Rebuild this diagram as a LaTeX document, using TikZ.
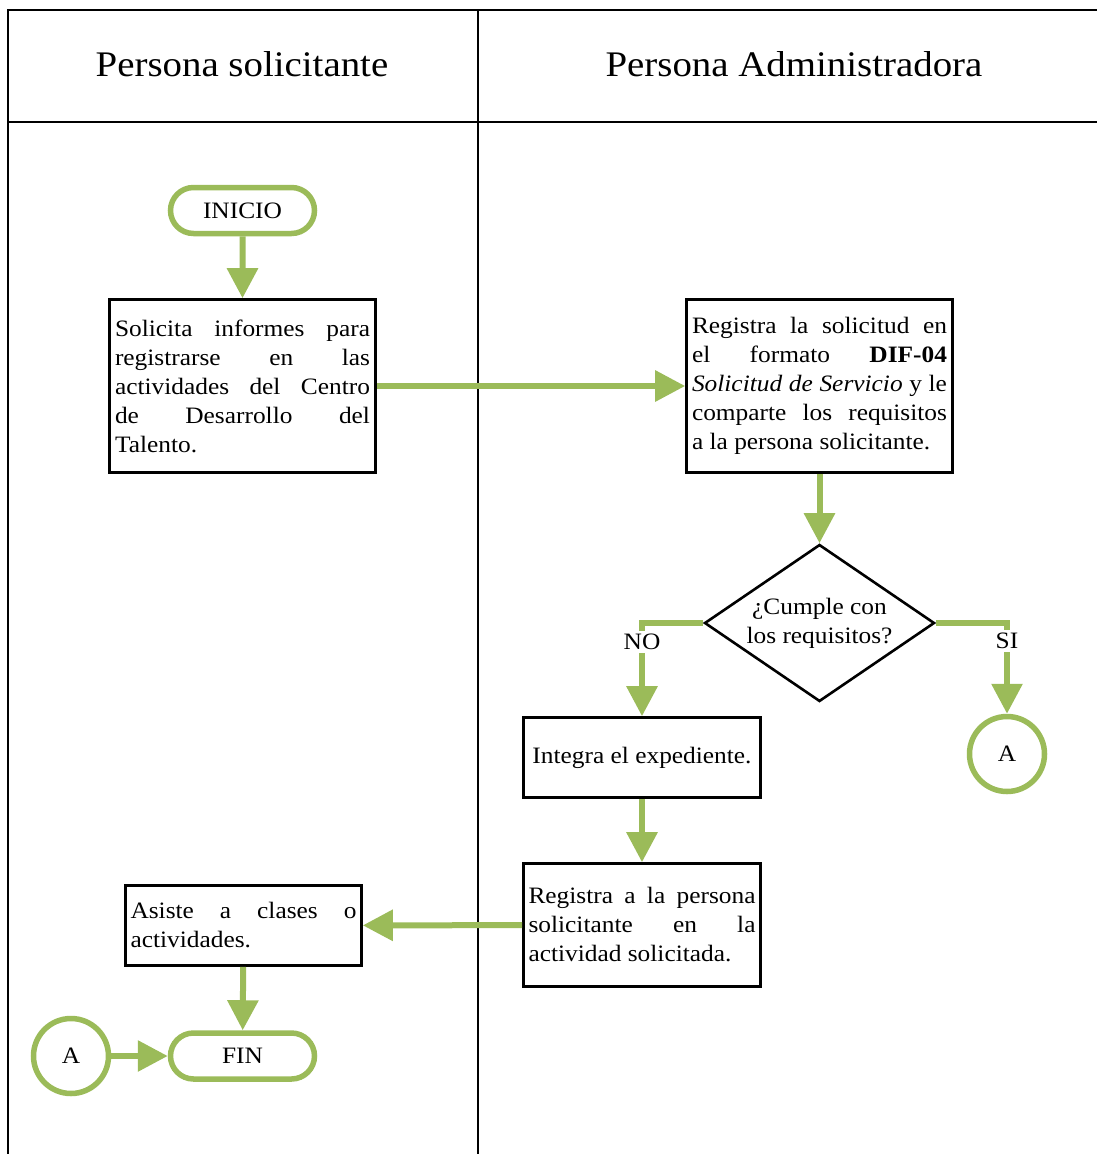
\documentclass[tikz,border=0pt]{standalone}
\usepackage{fontspec}
\setmainfont[FakeStretch=1.08]{Liberation Serif}
\usetikzlibrary{arrows.meta,shapes.geometric,shapes.misc}
\definecolor{grn}{RGB}{155,187,89}
\newcommand\jline[1]{\makebox[\linewidth][s]{#1}\par}
\begin{document}
\begin{tikzpicture}[x=1pt,y=-1pt,
  lane/.style={line width=2.2pt,draw=black},
  txt/.style={font=\fontsize{23.5pt}{29pt}\selectfont},
  proc/.style={draw=black,line width=2.6pt,rectangle,inner sep=0pt,txt},
  term/.style={draw=grn,line width=5.5pt,rounded rectangle,inner sep=0pt,txt,minimum width=144pt,minimum height=46pt},
  conn/.style={draw=grn,line width=5.5pt,circle,inner sep=0pt,minimum size=75pt,txt},
  arr/.style={draw=grn,line width=6pt,-{Triangle[length=30pt,width=30pt]}},
  lbl/.style={txt,fill=white,inner sep=3pt}
]
\useasboundingbox (0,0) rectangle (1097,1154);
% lanes
\draw[lane] (1097,10) -- (8,10) -- (8,1154);
\draw[lane] (8,122) -- (1097,122);
\draw[lane] (478,10) -- (478,1154);
\node[font=\fontsize{36pt}{42pt}\selectfont] (h1) at (242,64) {Persona solicitante};
\node[font=\fontsize{36pt}{42pt}\selectfont] (h2) at (794,64) {Persona Administradora};
% nodes
\node[term] (ini) at (242.5,210.5) {INICIO};
\node[proc,minimum width=266pt,minimum height=173pt] (b1) at (242.5,386) {\parbox{255pt}{%
\jline{Solicita informes para}\jline{registrarse en las}\jline{actividades del Centro}\jline{de Desarrollo del}Talento.}};
\node[proc,minimum width=266pt,minimum height=173pt] (b2) at (819.5,386) {\parbox{255pt}{%
\jline{Registra la solicitud en}\jline{el formato \textbf{DIF-04}}\jline{\textit{Solicitud de Servicio} y le}\jline{comparte los requisitos}a la persona solicitante.}};
\node[draw=black,line width=2.6pt,diamond,aspect=1.456,minimum width=230pt,minimum height=157pt,inner sep=0pt] (d) at (819.5,623) {};
\node[txt,align=center] (dt) at (819.5,623) {¿Cumple con\\los requisitos?};
\node[proc,minimum width=237pt,minimum height=80pt] (b3) at (642,757.5) {Integra el expediente.};
\node[proc,minimum width=237pt,minimum height=123pt] (b4) at (642,925) {\parbox{227pt}{%
\jline{Registra a la persona}\jline{solicitante en la}actividad solicitada.}};
\node[proc,minimum width=236pt,minimum height=80pt] (b5) at (243.5,925.5) {\parbox{226pt}{%
\jline{Asiste a clases o}actividades.}};
\node[term] (fin) at (242.5,1056) {FIN};
\node[conn] (a1) at (1007,754) {A};
\node[conn] (a2) at (71,1056) {A};
% connectors
\draw[arr] (ini) -- (b1);
\draw[arr] (b1) -- (b2);
\draw[arr] (b2) -- (d);
\draw[arr] (d.west) -| (b3.north) node[lbl,pos=0.6] {NO};
\draw[arr] (d.east) -| (a1.north) node[lbl,pos=0.6] {SI};
\draw[arr] (b3) -- (b4);
\draw[arr] (b4) -- (b5);
\draw[arr] (b5) -- (fin);
\draw[arr] (a2) -- (fin);
\end{tikzpicture}
\end{document}
